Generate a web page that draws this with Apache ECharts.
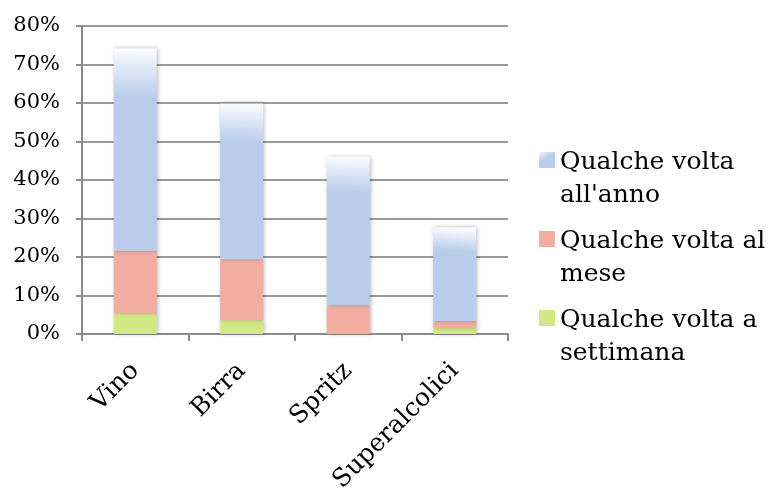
<!DOCTYPE html>
<html>
<head>
<meta charset="utf-8">
<script src="https://cdn.jsdelivr.net/npm/echarts@6/dist/echarts.min.js"></script>
<style>
  html, body { margin: 0; padding: 0; background: #fff; }
  #chart { width: 777px; height: 491px; }
</style>
</head>
<body>
<div id="chart"></div>
<script>
// Bevande e frequenza di consumo (%)
const categories = ['Vino', 'Birra', 'Spritz', 'Superalcolici'];
const settimana = [5.4, 3.6, 0, 1.7];
const mese = [16.2, 15.8, 7.5, 1.7];
const anno = [52.6, 40.5, 38.6, 24.3];
const yTicks = { min: 0, max: 80, interval: 10 };

const seriesNames = {
  anno: "Qualche volta all'anno",
  mese: 'Qualche volta al mese',
  settimana: 'Qualche volta a settimana'
};
const legendText = {
  "Qualche volta all'anno": "Qualche volta\nall'anno",
  'Qualche volta al mese': 'Qualche volta al\nmese',
  'Qualche volta a settimana': 'Qualche volta a\nsettimana'
};

const FONT = 'DejaVu Serif';
const BLUE = '#b9cceb', RED = '#f2ada1', GREEN = '#d3e883';

// square legend marker sitting next to the first text line
const legendIcon = 'path://M0,6h16v16h-16zM0,0h0.01v0.01h-0.01zM15.99,65.99h0.01v0.01h-0.01z';

const shadow = {
  shadowBlur: 4,
  shadowColor: 'rgba(0,0,0,0.28)',
  shadowOffsetX: 1,
  shadowOffsetY: 0
};

const fadeTop = {
  type: 'linear', x: 0.15, y: 0, x2: 0, y2: 1,
  colorStops: [
    { offset: 0, color: '#fafbfe' },
    { offset: 0.07, color: '#e6edf9' },
    { offset: 0.24, color: BLUE },
    { offset: 1, color: BLUE }
  ]
};

const chart = echarts.init(document.getElementById('chart'), null, { renderer: 'canvas' });

chart.setOption({
  animation: false,
  backgroundColor: '#ffffff',
  textStyle: { fontFamily: FONT },
  grid: {
    left: 82, right: 269, top: 26, bottom: 157,
    containLabel: false, outerBoundsMode: 'none'
  },
  legend: {
    orient: 'vertical',
    left: 539,
    top: 146,
    padding: 0,
    itemGap: 13,
    itemWidth: 16,
    itemHeight: 66,
    icon: legendIcon,
    formatter: name => legendText[name],
    textStyle: { fontFamily: FONT, fontSize: 25, lineHeight: 33, color: '#000' },
    data: [
      { name: seriesNames.anno, itemStyle: { color: {
        type: 'linear', x: 0, y: 0.05, x2: 0.4, y2: 0.2,
        colorStops: [{ offset: 0, color: '#ffffff' }, { offset: 1, color: BLUE }] } } },
      { name: seriesNames.mese, itemStyle: { color: RED } },
      { name: seriesNames.settimana, itemStyle: { color: GREEN } }
    ]
  },
  xAxis: {
    type: 'category',
    data: categories,
    axisLine: { lineStyle: { color: '#8c8c8c', width: 2 } },
    axisTick: { show: true, length: 7, lineStyle: { color: '#8c8c8c', width: 2 } },
    axisLabel: {
      rotate: 45, margin: 33, color: '#000',
      fontFamily: FONT, fontSize: 25, interval: 0
    }
  },
  yAxis: {
    type: 'value',
    min: yTicks.min, max: yTicks.max, interval: yTicks.interval,
    axisLine: { show: true, lineStyle: { color: '#8c8c8c', width: 2 } },
    axisTick: { show: true, length: 6, lineStyle: { color: '#8c8c8c', width: 2 } },
    splitLine: { show: true, lineStyle: { color: '#9a9a9a', width: 2 } },
    axisLabel: {
      formatter: '{value}%', margin: 22, color: '#000',
      fontFamily: FONT, fontSize: 21
    }
  },
  series: [
    {
      name: seriesNames.settimana, type: 'bar', stack: 'tot', barWidth: 43,
      data: settimana,
      itemStyle: Object.assign({ color: GREEN }, shadow)
    },
    {
      name: seriesNames.mese, type: 'bar', stack: 'tot', barWidth: 43,
      data: mese,
      itemStyle: Object.assign({ color: RED }, shadow)
    },
    {
      name: seriesNames.anno, type: 'bar', stack: 'tot', barWidth: 43,
      data: anno,
      itemStyle: Object.assign({ color: fadeTop }, shadow)
    }
  ]
});
</script>
</body>
</html>
